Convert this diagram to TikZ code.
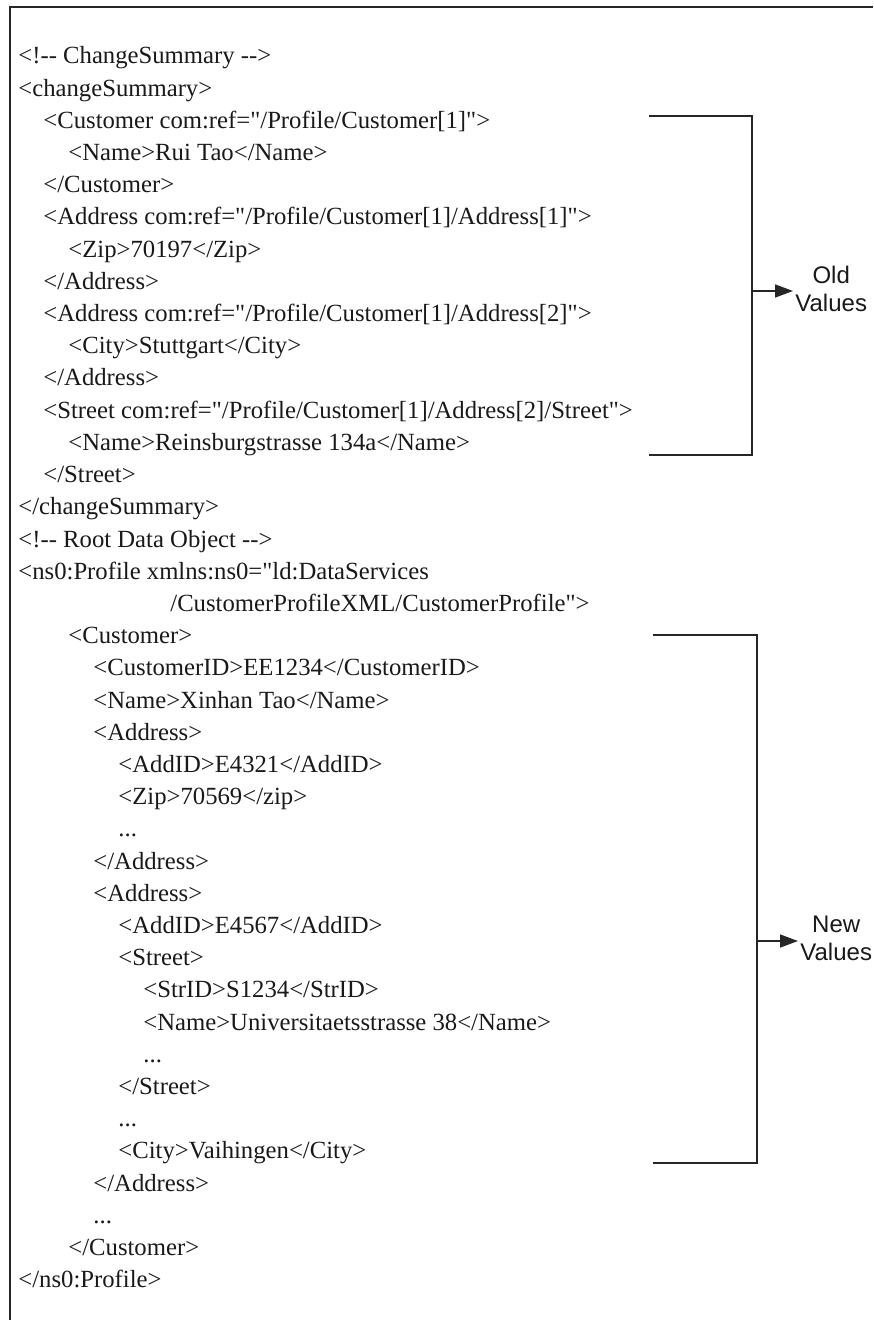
\documentclass[tikz,border=0pt]{standalone}
\usepackage{fontspec}
\newfontfamily\codefont{Liberation Serif}
\newfontfamily\notefont{Liberation Sans}
\usetikzlibrary{arrows.meta}

% horizontal position of an indentation level, vertical position of a listing row
\newcommand{\lvl}[1]{18+25*#1}
\newcommand{\row}[1]{64+32.2*#1}

\begin{document}
\begin{tikzpicture}[x=0.5pt,y=-0.5pt,
  codeline/.style={anchor=base west, inner sep=0pt,
    font=\codefont\fontsize{12.35}{14}\selectfont, text=black!90},
  note/.style={font=\notefont\fontsize{12}{14}\selectfont, align=center,
    inner sep=1pt, text=black!90},
  frameline/.style={draw=black!85, line width=1pt},
  bracket/.style={draw=black!85, line width=0.75pt},
  pointer/.style={bracket, -{Triangle[length=9pt,width=6.5pt]}}]
\useasboundingbox (0,0) rectangle (873,1320);

% outer frame (left and top edges)
\draw[frameline] (10,1320) -- (10,7.5) -- (873,7.5);

% change summary
\node[codeline] (l0)  at ({\lvl{0}},{\row{0}})  {<!-{}- ChangeSummary -{}->};
\node[codeline] (l1)  at ({\lvl{0}},{\row{1}})  {<changeSummary>};
\node[codeline] (l2)  at ({\lvl{1}},{\row{2}})  {<Customer com:ref="/Profile/Customer[1]">};
\node[codeline] (l3)  at ({\lvl{2}},{\row{3}})  {<Name>Rui Tao</Name>};
\node[codeline] (l4)  at ({\lvl{1}},{\row{4}})  {</Customer>};
\node[codeline] (l5)  at ({\lvl{1}},{\row{5}})  {<Address com:ref="/Profile/Customer[1]/Address[1]">};
\node[codeline] (l6)  at ({\lvl{2}},{\row{6}})  {<Zip>70197</Zip>};
\node[codeline] (l7)  at ({\lvl{1}},{\row{7}})  {</Address>};
\node[codeline] (l8)  at ({\lvl{1}},{\row{8}})  {<Address com:ref="/Profile/Customer[1]/Address[2]">};
\node[codeline] (l9)  at ({\lvl{2}},{\row{9}})  {<City>Stuttgart</City>};
\node[codeline] (l10) at ({\lvl{1}},{\row{10}}) {</Address>};
\node[codeline] (l11) at ({\lvl{1}},{\row{11}}) {<Street com:ref="/Profile/Customer[1]/Address[2]/Street">};
\node[codeline] (l12) at ({\lvl{2}},{\row{12}}) {<Name>Reinsburgstrasse 134a</Name>};
\node[codeline] (l13) at ({\lvl{1}},{\row{13}}) {</Street>};
\node[codeline] (l14) at ({\lvl{0}},{\row{14}}) {</changeSummary>};

% root data object
\node[codeline] (l15) at ({\lvl{0}},{\row{15}}) {<!-{}- Root Data Object -{}->};
\node[codeline] (l16) at ({\lvl{0}},{\row{16}}) {<ns0:Profile xmlns:ns0="ld:DataServices};
\node[codeline] (l17) at (170,{\row{17}})       {/CustomerProfileXML/CustomerProfile">};
\node[codeline] (l18) at ({\lvl{2}},{\row{18}}) {<Customer>};
\node[codeline] (l19) at ({\lvl{3}},{\row{19}}) {<CustomerID>EE1234</CustomerID>};
\node[codeline] (l20) at ({\lvl{3}},{\row{20}}) {<Name>Xinhan Tao</Name>};
\node[codeline] (l21) at ({\lvl{3}},{\row{21}}) {<Address>};
\node[codeline] (l22) at ({\lvl{4}},{\row{22}}) {<AddID>E4321</AddID>};
\node[codeline] (l23) at ({\lvl{4}},{\row{23}}) {<Zip>70569</zip>};
\node[codeline] (l24) at ({\lvl{4}},{\row{24}}) {...};
\node[codeline] (l25) at ({\lvl{3}},{\row{25}}) {</Address>};
\node[codeline] (l26) at ({\lvl{3}},{\row{26}}) {<Address>};
\node[codeline] (l27) at ({\lvl{4}},{\row{27}}) {<AddID>E4567</AddID>};
\node[codeline] (l28) at ({\lvl{4}},{\row{28}}) {<Street>};
\node[codeline] (l29) at ({\lvl{5}},{\row{29}}) {<StrID>S1234</StrID>};
\node[codeline] (l30) at ({\lvl{5}},{\row{30}}) {<Name>Universitaetsstrasse 38</Name>};
\node[codeline] (l31) at ({\lvl{5}},{\row{31}}) {...};
\node[codeline] (l32) at ({\lvl{4}},{\row{32}}) {</Street>};
\node[codeline] (l33) at ({\lvl{4}},{\row{33}}) {...};
\node[codeline] (l34) at ({\lvl{4}},{\row{34}}) {<City>Vaihingen</City>};
\node[codeline] (l35) at ({\lvl{3}},{\row{35}}) {</Address>};
\node[codeline] (l36) at ({\lvl{3}},{\row{36}}) {...};
\node[codeline] (l37) at ({\lvl{2}},{\row{37}}) {</Customer>};
\node[codeline] (l38) at ({\lvl{0}},{\row{38}}) {</ns0:Profile>};

% old values bracket
\coordinate (oldtop) at (649,116);
\coordinate (oldbot) at (649,455);
\coordinate (oldmid) at (752,291);
\node[note, anchor=west] (oldlbl) at (793,289) {Old\\Values};
\draw[bracket] (oldtop) -| (oldmid) |- (oldbot);
\draw[pointer] (oldmid) -- (oldlbl.west |- oldmid);

% new values bracket
\coordinate (newtop) at (653,635);
\coordinate (newbot) at (653,1163);
\coordinate (newmid) at (757,941);
\node[note, anchor=west] (newlbl) at (798,938) {New\\Values};
\draw[bracket] (newtop) -| (newmid) |- (newbot);
\draw[pointer] (newmid) -- (newlbl.west |- newmid);
\end{tikzpicture}
\end{document}
